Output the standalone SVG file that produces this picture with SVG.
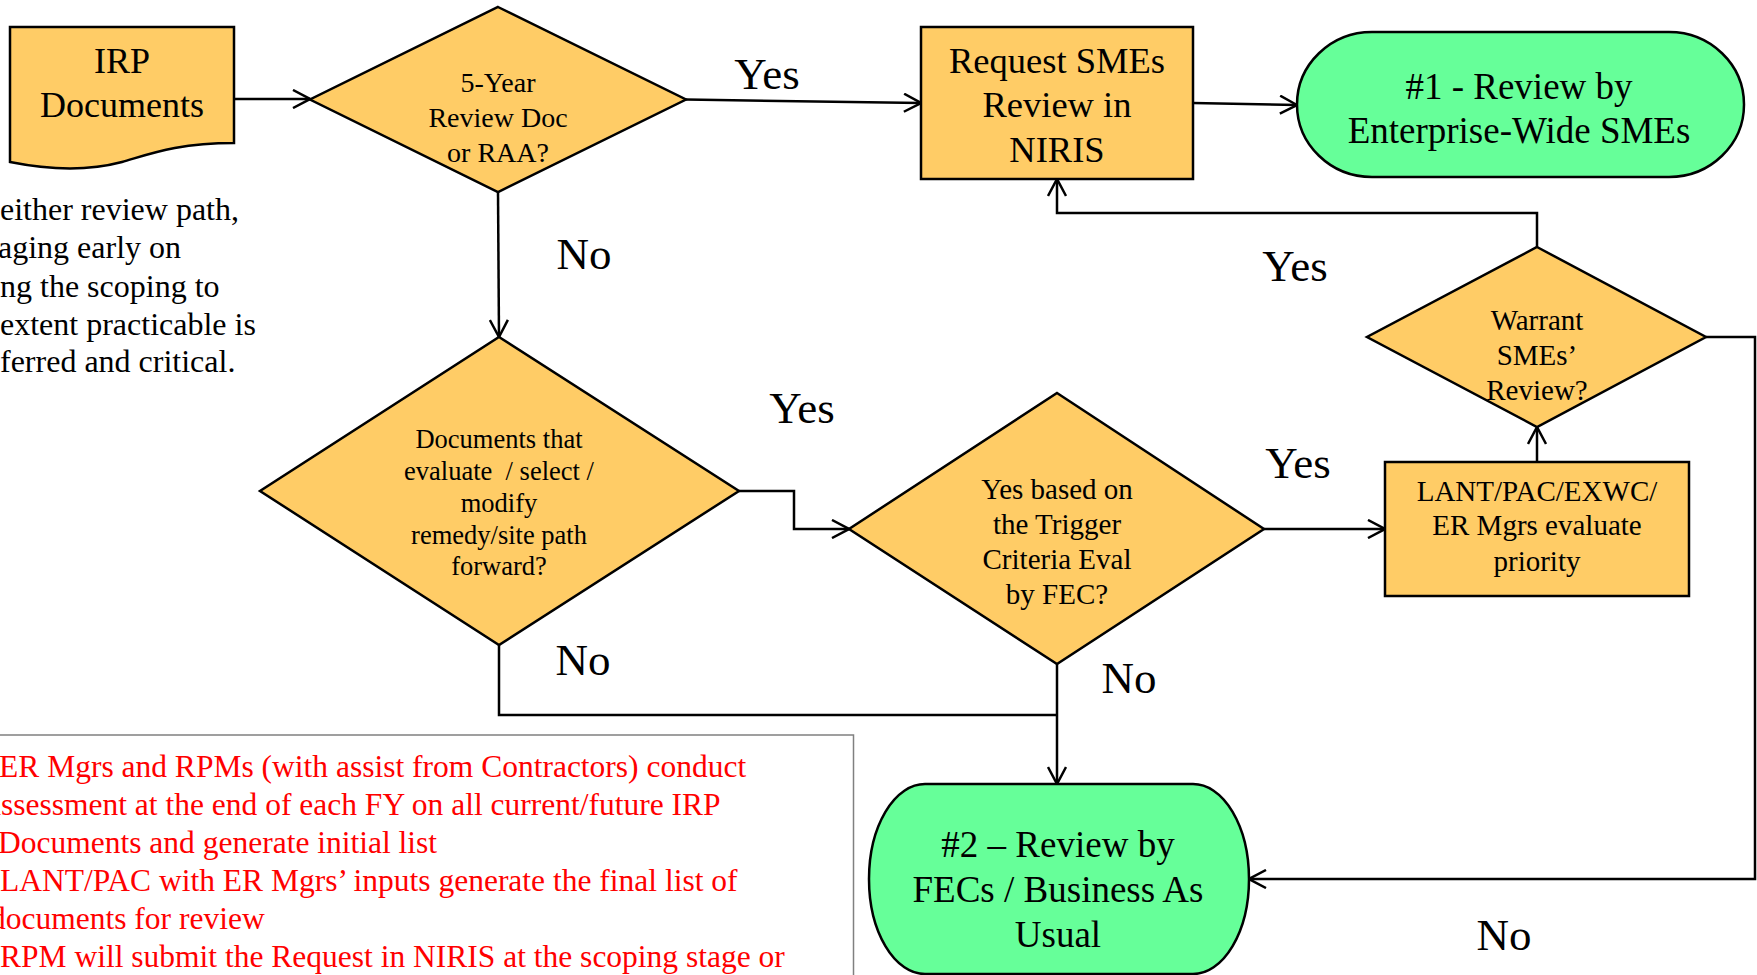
<svg xmlns="http://www.w3.org/2000/svg" width="1757" height="975" viewBox="0 0 1757 975">
<style>
.box{fill:#FFCC66;stroke:#000;stroke-width:2.5}
.term{fill:#66FF99;stroke:#000;stroke-width:2.5}
.t{font-family:"Liberation Serif","Times New Roman",serif;fill:#000;text-anchor:middle}
.lbl{font-family:"Liberation Serif","Times New Roman",serif;fill:#000;text-anchor:middle;font-size:45px}
.note{font-family:"Liberation Serif","Times New Roman",serif;fill:#000;font-size:32px}
.red{font-family:"Liberation Serif","Times New Roman",serif;fill:#FF0000;font-size:31.5px}
.conn{fill:none;stroke:#000;stroke-width:2.5}
</style>
<defs>
<marker id="arr" viewBox="0 0 20 20" refX="19" refY="10" markerWidth="20" markerHeight="20" markerUnits="userSpaceOnUse" orient="auto">
<path d="M2,1 L19,10 L2,19" fill="none" stroke="#000" stroke-width="2.5"/>
</marker>
</defs>
<rect width="1757" height="975" fill="#fff"/>

<g id="note-left">
<text class="note" x="0" y="220">either review path,</text>
<text class="note" x="-2" y="258">aging early on</text>
<text class="note" x="0" y="297">ng the scoping to</text>
<text class="note" x="0" y="335">extent practicable is</text>
<text class="note" x="0" y="372">ferred and critical.</text>
</g>

<g id="note-red">
<rect x="-5" y="735" width="858.5" height="250" fill="#fff" stroke="#808080" stroke-width="1.5"/>
<text class="red" x="-1" y="777">ER Mgrs and RPMs (with assist from Contractors) conduct</text>
<text class="red" x="-13" y="815">assessment at the end of each FY on all current/future IRP</text>
<text class="red" x="-2" y="853">Documents and generate initial list</text>
<text class="red" x="0" y="891">LANT/PAC with ER Mgrs’ inputs generate the final list of</text>
<text class="red" x="-10" y="929">documents for review</text>
<text class="red" x="0" y="967">RPM will submit the Request in NIRIS at the scoping stage or</text>
</g>

<g id="connectors">
<line class="conn" x1="234" y1="99" x2="310" y2="99" marker-end="url(#arr)"/>
<line class="conn" x1="686" y1="99.5" x2="921" y2="103" marker-end="url(#arr)"/>
<line class="conn" x1="1193" y1="103" x2="1297" y2="105" marker-end="url(#arr)"/>
<line class="conn" x1="498" y1="192" x2="499" y2="337" marker-end="url(#arr)"/>
<polyline class="conn" points="739,491 794,491 794,529 849,529" marker-end="url(#arr)"/>
<polyline class="conn" points="499,645 499,715 1057,715"/>
<line class="conn" x1="1057" y1="664" x2="1057" y2="784" marker-end="url(#arr)"/>
<line class="conn" x1="1264" y1="529" x2="1385" y2="529" marker-end="url(#arr)"/>
<line class="conn" x1="1537" y1="462" x2="1537" y2="427" marker-end="url(#arr)"/>
<polyline class="conn" points="1537,247 1537,213 1057,213 1057,179" marker-end="url(#arr)"/>
<polyline class="conn" points="1706,337 1755,337 1755,879 1249,879" marker-end="url(#arr)"/>
<text class="lbl" x="767" y="89">Yes</text>
<text class="lbl" x="584" y="269">No</text>
<text class="lbl" x="1295" y="281">Yes</text>
<text class="lbl" x="802" y="423">Yes</text>
<text class="lbl" x="1298" y="478">Yes</text>
<text class="lbl" x="583" y="675">No</text>
<text class="lbl" x="1129" y="693">No</text>
<text class="lbl" x="1504" y="950">No</text>
</g>

<g id="irp-documents">
<path class="box" d="M10,27 H234 V143 C178,143 150,154 122,162 C92,170 55,171 10,162 Z"/>
<text class="t" x="122" y="73" font-size="36">IRP</text>
<text class="t" x="122" y="117" font-size="36">Documents</text>
</g>

<g id="five-year">
<polygon class="box" points="498,7 686,99.5 498,192 310,99.5"/>
<text class="t" x="498" y="92" font-size="28">5-Year</text>
<text class="t" x="498" y="127" font-size="28">Review Doc</text>
<text class="t" x="498" y="162" font-size="28">or RAA?</text>
</g>

<g id="request-smes">
<rect class="box" x="921" y="27" width="272" height="152"/>
<text class="t" x="1057" y="73" font-size="36.5">Request SMEs</text>
<text class="t" x="1057" y="117" font-size="36.5">Review in</text>
<text class="t" x="1057" y="162" font-size="36.5">NIRIS</text>
</g>

<g id="review-1">
<rect class="term" x="1297" y="32" width="447" height="145" rx="75" ry="72.5"/>
<text class="t" x="1519" y="99" font-size="37">#1 - Review by</text>
<text class="t" x="1519" y="143" font-size="37">Enterprise-Wide SMEs</text>
</g>

<g id="documents-decision">
<polygon class="box" points="499,337 739,491 499,645 260,491"/>
<text class="t" x="499" y="448" font-size="26.5">Documents that</text>
<text class="t" x="499" y="480" font-size="26.5" style="white-space:pre">evaluate  / select /</text>
<text class="t" x="499" y="512" font-size="26.5">modify</text>
<text class="t" x="499" y="544" font-size="26.5">remedy/site path</text>
<text class="t" x="499" y="575" font-size="26.5">forward?</text>
</g>

<g id="trigger-decision">
<polygon class="box" points="1057,393 1264,529 1057,664 849,529"/>
<text class="t" x="1057" y="499" font-size="29">Yes based on</text>
<text class="t" x="1057" y="534" font-size="29">the Trigger</text>
<text class="t" x="1057" y="569" font-size="29">Criteria Eval</text>
<text class="t" x="1057" y="604" font-size="29">by FEC?</text>
</g>

<g id="lant-box">
<rect class="box" x="1385" y="462" width="304" height="134"/>
<text class="t" x="1537" y="501" font-size="29">LANT/PAC/EXWC/</text>
<text class="t" x="1537" y="535" font-size="29">ER Mgrs evaluate</text>
<text class="t" x="1537" y="571" font-size="29">priority</text>
</g>

<g id="warrant-decision">
<polygon class="box" points="1537,247 1706,337 1537,427 1367,337"/>
<text class="t" x="1537" y="330" font-size="29">Warrant</text>
<text class="t" x="1537" y="365" font-size="29">SMEs’</text>
<text class="t" x="1537" y="400" font-size="29">Review?</text>
</g>

<g id="review-2">
<rect class="term" x="869" y="784" width="380" height="190" rx="56" ry="95"/>
<text class="t" x="1058" y="857" font-size="37">#2 – Review by</text>
<text class="t" x="1058" y="902" font-size="37">FECs / Business As</text>
<text class="t" x="1058" y="947" font-size="37">Usual</text>
</g>
</svg>
